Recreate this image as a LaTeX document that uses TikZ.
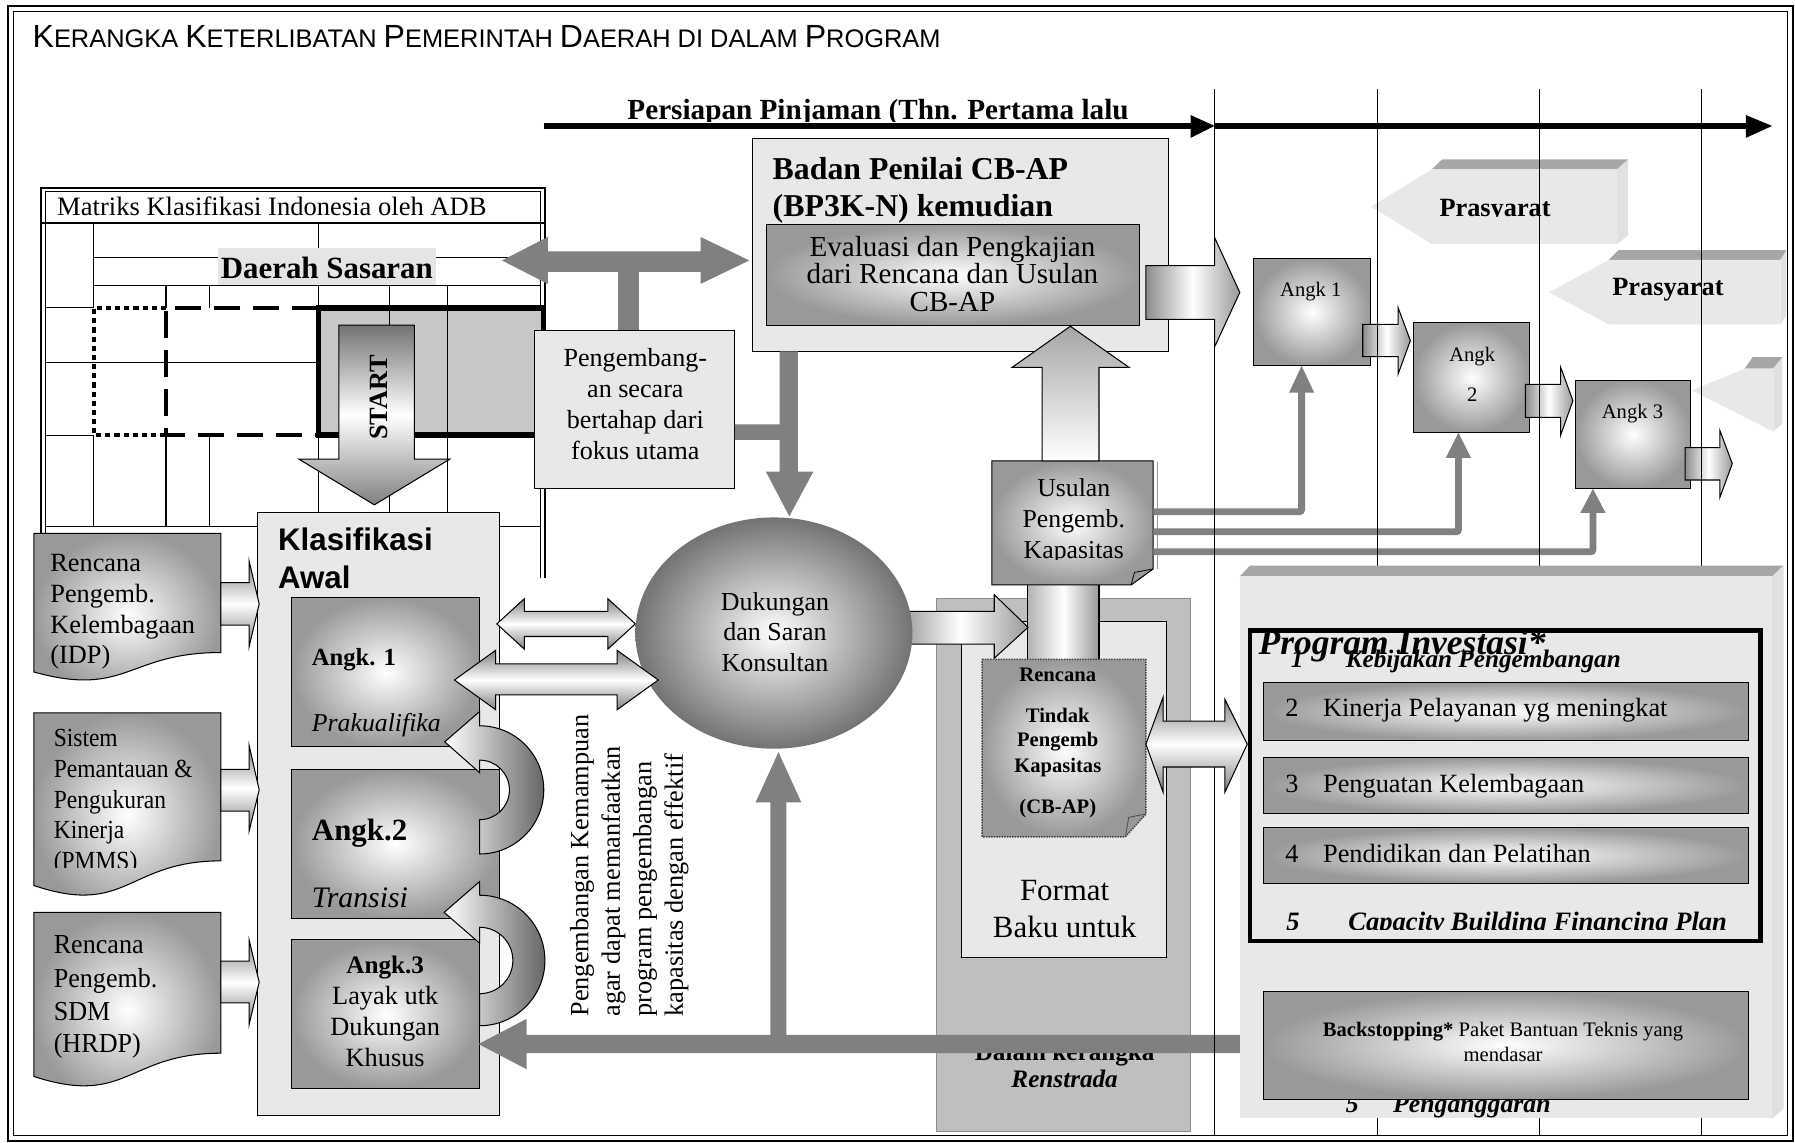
\documentclass[tikz,border=0pt]{standalone}
\usepackage{fontspec}
\setmainfont{Liberation Serif}
\setsansfont{Liberation Sans}
\newfontfamily\condf[FakeStretch=0.9]{Liberation Serif}
\newfontfamily\condg[FakeStretch=0.95]{Liberation Serif}
\usetikzlibrary{shapes.geometric}
\newcommand{\fsz}[2]{\fontsize{#1}{#2}\selectfont}
\newcommand{\bigc}[1]{{\fontsize{28}{28}\selectfont #1}}
\begin{document}
\begin{tikzpicture}[x=1pt,y=-1pt,
  every node/.style={inner sep=0pt,outer sep=0pt},
  bx/.style={draw=black,line width=0.9pt},
  marble/.style={fill=black!9},
  cg/.style={shading=radial,inner color=white,outer color=black!40},
  hg/.style={top color=black!50,bottom color=black!50,middle color=white,draw=black,line width=0.9pt},
  lg/.style={left color=black!45,right color=black!40,middle color=white,draw=black,line width=0.9pt},
  garr/.style={fill=black!50},
  gline/.style={draw=black!50,line width=6pt},
  grid/.style={line width=0.9pt},
  tl/.style={line width=1pt},
  bevtop/.style={fill=black!35},
  bevside/.style={fill=black!12},
]
\useasboundingbox (0,0) rectangle (1568,998);
\fill[white] (0,0) rectangle (1568,998);
% border
\draw[line width=2pt] (7,5.5) rectangle (1566,996.5);
\draw[line width=0.9pt] (11.5,10) rectangle (1561.5,991.5);
% title
\node[anchor=base west, font=\sffamily\fsz{22.2}{28}] (title) at (28.5,41.3)
 {\bigc{K}ERANGKA \bigc{K}ETERLIBATAN \bigc{P}EMERINTAH \bigc{D}AERAH DI DALAM \bigc{P}ROGRAM};
% timeline
\begin{scope}
\clip (400,70) rectangle (1100,106.3);
\node[anchor=base, font=\bfseries\fsz{25.5}{25.5}] (persiapan) at (767,104.5) {Persiapan Pinjaman (Thn. Pertama lalu};
\end{scope}
\coordinate (t0) at (475,110); \coordinate (t1) at (1061,110); \coordinate (t2) at (1548,110);
\draw[line width=5.8pt] (t0) -- (1042,110);
\fill (1040,100.5) -- (t1) -- (1040,120.5) -- cycle;
\draw[line width=5.8pt] (t1) -- (1527,110);
\fill (1525,100.5) -- (t2) -- (1525,120.5) -- cycle;

% ===== matrix =====
\draw[line width=1.5pt] (36,505) -- (36,164) -- (476,164) -- (476,505);
\draw[line width=1pt] (39.5,505) -- (39.5,167.5) -- (472.5,167.5) -- (472.5,505);
\draw[line width=2pt] (36,195) -- (476,195);
\node[anchor=base west, font=\fsz{23.2}{23.2}] (mtitle) at (50,188.4) {Matriks Klasifikasi Indonesia oleh ADB};
\fill[black!22] (278,269) rectangle (474.5,380);
\draw[grid] (82,195) -- (82,269) (82,380) -- (82,460);
\draw[grid] (278,195) -- (278,269) (278,380) -- (278,460);
\draw[grid] (82,225) -- (472.5,225);
\draw[grid] (82,249.6) -- (472.5,249.6);
\draw[grid] (145,249.6) -- (145,269) (145,380) -- (145,460);
\draw[grid] (183,249.6) -- (183,269) (183,380) -- (183,460);
\draw[grid] (340,249.6) -- (340,460);
\draw[grid] (391,249.6) -- (391,460);
\draw[grid] (39.5,269) -- (82,269) (39.5,380) -- (82,380);
\draw[grid] (39.5,316.5) -- (278,316.5);
\draw[grid] (39.5,459.5) -- (472.5,459.5);
\draw[line width=4pt, dash pattern=on 4.5pt off 3.5pt] (145,269) -- (82,269) -- (82,380) -- (145,380);
\draw[line width=4pt, dash pattern=on 23pt off 11pt] (278,269) -- (145,269) -- (145,380) -- (278,380);
\draw[line width=4.5pt] (278,269) rectangle (474.5,380);
\node[fill=black!10, minimum width=191, minimum height=32, anchor=north west] (dslbl) at (190,217) {};
\node[anchor=base, font=\bfseries\fsz{27}{27}] (ds) at (285.5,243) {Daerah Sasaran};

% top double arrow with stem
\fill[garr] (438.5,227.5) -- (478.5,207) -- (478.5,219.5) -- (612,219.5) -- (612,207) -- (654.5,227.5)
  -- (612,248) -- (612,237.5) -- (558,237.5) -- (558,290) -- (540,290) -- (540,237.5)
  -- (478.5,237.5) -- (478.5,248) -- cycle;

% Pengembangan box
\node[bx, marble, minimum width=175, minimum height=138, anchor=north west] (peng) at (467,289) {};
\node[anchor=base, font=\fsz{22.8}{22.8}] (pg1) at (555,320) {Pengembang-};
\node[anchor=base, font=\fsz{22.8}{22.8}] (pg2) at (555,347) {an secara};
\node[anchor=base, font=\fsz{22.8}{22.8}] (pg3) at (555,374) {bertahap dari};
\node[anchor=base, font=\fsz{22.8}{22.8}] (pg4) at (555,401) {fokus utama};

% Badan box
\node[bx, marble, minimum width=364, minimum height=186, anchor=north west] (badan) at (657,121) {};
\node[anchor=base west, font=\bfseries\fsz{27.8}{27.8}] (bd1) at (675,157) {Badan Penilai CB-AP};
\node[anchor=base west, font=\bfseries\fsz{27.8}{27.8}] (bd2) at (675,189) {(BP3K-N) kemudian};
\node[bx, cg, minimum width=325.5, minimum height=87.5, anchor=north west] (eval) at (669.5,196.5) {};
\node[anchor=base, font=\fsz{25.4}{25.4}] (ev1) at (832,224) {Evaluasi dan Pengkajian};
\node[anchor=base, font=\fsz{25.4}{25.4}] (ev2) at (832,248) {dari Rencana dan Usulan};
\node[anchor=base, font=\fsz{25.4}{25.4}] (ev3) at (832,272) {CB-AP};

% down arrow badan -> ellipse, with branch from peng
\fill[garr] (681,307) -- (697,307) -- (697,412) -- (710.5,412) -- (689.5,451) -- (669,412) -- (681,412)
  -- (681,384.3) -- (642,384.3) -- (642,370.7) -- (681,370.7) -- cycle;

% START arrow
\path[draw=black, line width=0.9pt, top color=black!55, bottom color=black!50, middle color=white]
  (296,284) -- (362,284) -- (362,401) -- (393,401) -- (327,441) -- (261,401) -- (296,401) -- cycle;
\node[rotate=90, font=\bfseries\fsz{23}{23}] (start) at (331,347) {START};

% Klasifikasi box
\node[bx, marble, minimum width=211, minimum height=527, anchor=north west] (klas) at (225,447.5) {};
\node[anchor=base west, font=\sffamily\bfseries\fsz{27.3}{27.3}] (kl1) at (243,481) {Klasifikasi};
\node[anchor=base west, font=\sffamily\bfseries\fsz{27.3}{27.3}] (kl2) at (243,514) {Awal};
\node[bx, cg, minimum width=164, minimum height=130.5, anchor=north west] (ak1) at (255,522) {};
\node[anchor=base west, font=\bfseries\fsz{21.5}{21.5}] (ak1a) at (272.5,581) {Angk. 1};
\node[anchor=base west, font=\itshape\fsz{22.5}{22.5}] (ak1b) at (272.5,639.3) {Prakualifika};
\node[bx, cg, minimum width=181, minimum height=129.5, anchor=north west] (ak2) at (255,672.5) {};
\node[anchor=base west, font=\bfseries\fsz{27}{27}] (ak2a) at (272.5,734.5) {Angk.2};
\node[anchor=base west, font=\itshape\fsz{26}{26}] (ak2b) at (272.5,792.6) {Transisi};
\node[bx, cg, minimum width=164, minimum height=130, anchor=north west] (ak3) at (255,821) {};
\node[anchor=base, font=\bfseries\fsz{22}{22}] (ak3a) at (336.5,850.4) {Angk.3};
\node[anchor=base, font=\fsz{23}{23}] (ak3b) at (336.5,877.8) {Layak utk};
\node[anchor=base, font=\fsz{23}{23}] (ak3c) at (336.5,904.6) {Dukungan};
\node[anchor=base, font=\fsz{23}{23}] (ak3d) at (336.5,931.7) {Khusus};
% U arrows
\path[draw=black, line width=0.9pt, left color=white, right color=black!60]
  (419,746) arc[start angle=90, end angle=-90, radius=56] -- (419,621.5) -- (388.5,648) -- (419,675)
  -- (419,664) arc[start angle=-90, end angle=90, radius=26] -- cycle;
\path[draw=black, line width=0.9pt, left color=white, right color=black!60]
  (419,896) arc[start angle=90, end angle=-90, radius=57] -- (419,770) -- (388,797) -- (419,824)
  -- (419,810) arc[start angle=-90, end angle=90, radius=29] -- cycle;

% left documents
\path[draw=black, line width=0.9pt, cg] (29.5,466) -- (193,466) -- (193,570) .. controls (111,570) and (111,609.6) .. (29.5,587) -- cycle;
\node[anchor=base west, font=\fsz{23}{23}] (d1a) at (44,499) {Rencana};
\node[anchor=base west, font=\fsz{23}{23}] (d1b) at (44,526) {Pengemb.};
\node[anchor=base west, font=\fsz{23}{23}] (d1c) at (44,553) {Kelembagaan};
\node[anchor=base west, font=\fsz{23}{23}] (d1d) at (44,579.5) {(IDP)};
\path[draw=black, line width=0.9pt, cg] (29.5,622.8) -- (193,622.8) -- (193,752) .. controls (111,752) and (111,801) .. (29.5,773.5) -- cycle;
\node[anchor=base west, font=\condf\fsz{22.8}{22.8}] (d2a) at (47,652.5) {Sistem};
\node[anchor=base west, font=\condf\fsz{22.8}{22.8}] (d2b) at (47,679.3) {Pemantauan \&};
\node[anchor=base west, font=\condf\fsz{22.8}{22.8}] (d2c) at (47,706) {Pengukuran};
\node[anchor=base west, font=\condf\fsz{22.8}{22.8}] (d2d) at (47,732.8) {Kinerja};
\begin{scope}
\clip (40,738) rectangle (190,757.5);
\node[anchor=base west, font=\condf\fsz{22.8}{22.8}] (d2e) at (47,759.5) {(PMMS)};
\end{scope}
\path[draw=black, line width=0.9pt, cg] (29.5,797) -- (193,797) -- (193,920) .. controls (111,920) and (111,967) .. (29.5,940.3) -- cycle;
\node[anchor=base west, font=\condg\fsz{24}{24}] (d3a) at (47,832.5) {Rencana};
\node[anchor=base west, font=\condg\fsz{24}{24}] (d3b) at (47,862.8) {Pengemb.};
\node[anchor=base west, font=\condg\fsz{24}{24}] (d3c) at (47,891.3) {SDM};
\node[anchor=base west, font=\condg\fsz{24}{24}] (d3d) at (47,919.8) {(HRDP)};
% doc arrows
\path[hg] (193,509) -- (217.6,509) -- (217.6,490) -- (226.4,527.5) -- (217.6,565) -- (217.6,546) -- (193,546) -- cycle;
\path[hg] (193,672) -- (217.6,672) -- (217.6,651) -- (226.4,690) -- (217.6,726) -- (217.6,708.6) -- (193,708.6) -- cycle;
\path[hg] (193,839.5) -- (217.6,839.5) -- (217.6,821) -- (226.4,858) -- (217.6,895) -- (217.6,876) -- (193,876) -- cycle;

% Renstrada panel
\node[draw=black!45, fill=black!25, minimum width=222, minimum height=465, anchor=north west] (renpanel) at (818,523) {};
\node[bx, marble, minimum width=179, minimum height=293, anchor=north west] (fmt) at (840,543) {};
\node[anchor=base, font=\fsz{27}{27}] (fm1) at (930,787) {Format};
\node[anchor=base, font=\fsz{27}{27}] (fm2) at (930,819) {Baku untuk};
\node[anchor=base, font=\bfseries\fsz{22}{22}] (dk) at (930,926) {Dalam kerangka};
\node[anchor=base, font=\bfseries\itshape\fsz{22}{22}] (rs) at (930,950) {Renstrada};

% connector usulan -> rencana
\path[draw=black, line width=0.9pt, left color=black!30, right color=black!40, middle color=white] (897.6,507) rectangle (960,578);
% Usulan box
\node[minimum width=141, minimum height=108.5, anchor=north west] (usulan) at (866.4,402.5) {};
\draw[black!40, line width=0.9pt] (1011,404) -- (1011,497);
\path[draw=black, line width=0.9pt, cg] (866.4,402.5) -- (1007.3,402.5) -- (1007.3,497) -- (988,511) -- (866.4,511) -- cycle;
\draw[black, line width=0.7pt] (988,511) -- (991,500) -- (1007.3,497);
\node[anchor=base, font=\fsz{22.5}{22.5}] (us1) at (938,434) {Usulan};
\node[anchor=base, font=\fsz{22.5}{22.5}] (us2) at (938,461) {Pengemb.};
\begin{scope}
\clip (868,470) rectangle (1005,489);
\node[anchor=base, font=\fsz{22.5}{22.5}] (us3) at (938,488) {Kapasitas};
\end{scope}
% up arrow usulan -> eval
\path[draw=black, line width=0.9pt, top color=black!35, bottom color=white]
  (910.3,402.5) -- (910.3,321) -- (884,321) -- (935,285) -- (986.4,321) -- (960,321) -- (960,402.5) -- cycle;

% ellipse -> rencana arrow
\path[lg] (780,534) -- (868.5,534) -- (868.5,519.5) -- (898,548) -- (868.5,575) -- (868.5,562.7) -- (780,562.7) -- cycle;
% ellipse
\node[ellipse, minimum width=242, minimum height=202, shading=radial, inner color=white, outer color=black!55] (duk) at (676,553) {};
\node[anchor=base, font=\fsz{22.7}{22.7}] (du1) at (677,533.5) {Dukungan};
\node[anchor=base, font=\fsz{22.7}{22.7}] (du2) at (677,559.5) {dan Saran};
\node[anchor=base, font=\fsz{22.7}{22.7}] (du3) at (677,586.5) {Konsultan};
% double arrows klasifikasi <-> ellipse
\path[hg] (434,545) -- (458,523) -- (458,534) -- (531,534) -- (531,523) -- (555,545) -- (531,567) -- (531,556) -- (458,556) -- (458,567) -- cycle;
\path[hg] (397,594) -- (433,568) -- (433,580) -- (539,580) -- (539,568) -- (575,594) -- (539,620) -- (539,607) -- (433,607) -- (433,620) -- cycle;

% Rencana doc
\node[minimum width=143, minimum height=155, anchor=north west] (renc) at (858,576) {};
\path[draw=black!75, line width=1.3pt, densely dotted, cg] (858,576) -- (1001,576) -- (1001,711) -- (983,731) -- (858,731) -- cycle;
\draw[black!70, line width=0.7pt] (983,731) -- (986,714) -- (1001,711);
\node[anchor=base, font=\bfseries\fsz{18}{18}] (rc1) at (924,595) {Rencana};
\node[anchor=base, font=\bfseries\fsz{18}{18}] (rc2) at (924,631) {Tindak};
\node[anchor=base, font=\bfseries\fsz{18}{18}] (rc3) at (924,652.5) {Pengemb};
\node[anchor=base, font=\bfseries\fsz{18}{18}] (rc4) at (924,675) {Kapasitas};
\node[anchor=base, font=\bfseries\fsz{18}{18}] (rc5) at (924,710.5) {(CB-AP)};

% bottom feedback arrow and up arrow to ellipse
\fill[garr] (1104,904) -- (460,904) -- (460,890) -- (418,912) -- (460,934) -- (460,920) -- (1104,920) -- cycle;
\fill[garr] (673,904) -- (673,701) -- (660,701) -- (680,657) -- (700,701) -- (687,701) -- (687,904) -- cycle;

% vertical text
\node[rotate=90, anchor=base west, font=\fsz{23}{23}] (vt1) at (514,888) {Pengembangan Kemampuan};
\node[rotate=90, anchor=base west, font=\fsz{23}{23}] (vt2) at (541.5,888) {agar dapat memanfaatkan};
\node[rotate=90, anchor=base west, font=\fsz{23}{23}] (vt3) at (569,888) {program pengembangan};
\node[rotate=90, anchor=base west, font=\fsz{23}{23}] (vt4) at (596.5,888) {kapasitas dengan effektif};

% Prasyarat shapes
\fill[bevtop] (1250.8,147.9) -- (1259.8,139.2) -- (1422.3,139.2) -- (1412.5,147.9) -- cycle;
\fill[bevside] (1412.5,147.9) -- (1422.3,139.2) -- (1422.3,205.3) -- (1412.5,213.1) -- cycle;
\fill[black!9] (1197.6,180.5) -- (1250.8,147.9) -- (1412.5,147.9) -- (1412.5,213.1) -- (1250.8,213.1) -- cycle;
\begin{scope}
\clip (1200,150) rectangle (1410,189.5);
\node[anchor=base, font=\bfseries\fsz{23}{23}] (pr1) at (1306,189) {Prasyarat};
\end{scope}
\fill[bevtop] (1405.3,227.1) -- (1414,218.4) -- (1560.5,218.4) -- (1555.4,227.1) -- cycle;
\fill[bevside] (1555.4,227.1) -- (1560.5,218.4) -- (1560.5,275) -- (1555.4,283.3) -- cycle;
\fill[black!9] (1353.3,255.4) -- (1405.3,227.1) -- (1555.4,227.1) -- (1555.4,283.3) -- (1405.3,283.3) -- cycle;
\node[anchor=base, font=\bfseries\fsz{23}{23}] (pr2) at (1457,257.7) {Prasyarat};
\fill[bevtop] (1524,322) -- (1531,312) -- (1557,312) -- (1549,322) -- cycle;
\fill[bevside] (1549,322) -- (1557,312) -- (1557,370) -- (1549,377) -- cycle;
\fill[black!9] (1478,341) -- (1524,322) -- (1549,322) -- (1549,377) -- cycle;

% Angk boxes
\node[bx, cg, minimum width=102, minimum height=94, anchor=north west] (a1) at (1095,225.6) {};
\node[anchor=base, font=\fsz{18}{18}] (a1t) at (1145,259.2) {Angk 1};
\node[bx, cg, minimum width=101, minimum height=96, anchor=north west] (a2) at (1235,282) {};
\node[anchor=base, font=\fsz{18}{18}] (a2t) at (1286,316) {Angk};
\node[anchor=base, font=\fsz{18}{18}] (a2n) at (1286,351) {2};
\node[bx, cg, minimum width=101, minimum height=95, anchor=north west] (a3) at (1376,332) {};
\node[anchor=base, font=\fsz{18}{18}] (a3t) at (1426,365.4) {Angk 3};
\path[lg] (1190.4,283.3) -- (1221.3,283.3) -- (1221.3,268.8) -- (1232,297.5) -- (1221.3,326.7) -- (1221.3,311.6) -- (1190.4,311.6) -- cycle;
\path[lg] (1332.4,335.7) -- (1363.3,335.7) -- (1363.3,320.9) -- (1374,350) -- (1363.3,380) -- (1363.3,364.5) -- (1332.4,364.5) -- cycle;
\path[lg] (1472,391) -- (1502.4,391) -- (1502.4,376.2) -- (1513.2,405) -- (1502.4,434.4) -- (1502.4,419.3) -- (1472,419.3) -- cycle;

% gray connectors usulan -> angk
\draw[gline, rounded corners=2pt] (usulan.east |- 0,447) -- (1137,447) -- (1137,341);
\fill[black!50] (1126,343) -- (a1.south -| 1137,0) -- (1148,343) -- cycle;
\draw[gline, rounded corners=2pt] (usulan.east |- 0,464.5) -- (1274,464.5) -- (1274,398);
\fill[black!50] (1263,400) -- (a2.south -| 1274,0) -- (1285,400) -- cycle;
\draw[gline, rounded corners=2pt] (usulan.east |- 0,482) -- (1391.5,482) -- (1391.5,446);
\fill[black!50] (1380.5,448) -- (a3.south -| 1391.5,0) -- (1402.5,448) -- cycle;

% timeline vertical lines
\draw[tl] (1061,78) -- (1061,991.5);
\draw[tl] (1203,78) -- (1203,991.5);
\draw[tl] (1345,78) -- (1345,991.5);
\draw[tl] (1486,78) -- (1486,991.5);

% badan -> right arrow
\path[lg] (1001,232) -- (1061,232) -- (1061,207.5) -- (1083,255.5) -- (1061,303) -- (1061,279) -- (1001,279) -- cycle;

% Program Investasi panel
\fill[bevtop] (1083,503.5) -- (1092,494) -- (1558,494) -- (1548,503.5) -- cycle;
\fill[bevside] (1548,503.5) -- (1558,494) -- (1558,968.5) -- (1548,977) -- cycle;
\node[marble, minimum width=465, minimum height=473.5, anchor=north west] (prog) at (1083,503.5) {};
\node[draw, line width=4pt, minimum width=446, minimum height=271, anchor=north west] (pframe) at (1092,551) {};
\node[anchor=base west, font=\bfseries\itshape\fsz{31}{31}] (ptitle) at (1099.5,571.4) {Program Investasi*};
\node[anchor=base west, font=\bfseries\itshape\fsz{22}{22}] (p1n) at (1127.6,583) {1};
\node[anchor=base west, font=\bfseries\itshape\fsz{22}{22}] (p1t) at (1175.6,583) {Kebijakan Pengembangan};
\node[bx, cg, minimum width=423, minimum height=50.4, anchor=north west] (i2) at (1104,596.2) {};
\node[anchor=base west, font=\fsz{23}{23}] (i2n) at (1122.7,626) {2};
\node[anchor=base west, font=\fsz{23}{23}] (i2t) at (1155.8,626) {Kinerja Pelayanan yg meningkat};
\node[bx, cg, minimum width=423, minimum height=48.6, anchor=north west] (i3) at (1104,661.8) {};
\node[anchor=base west, font=\fsz{23}{23}] (i3n) at (1122.7,692.2) {3};
\node[anchor=base west, font=\fsz{23}{23}] (i3t) at (1155.8,692.2) {Penguatan Kelembagaan};
\node[bx, cg, minimum width=423, minimum height=48.6, anchor=north west] (i4) at (1104,723) {};
\node[anchor=base west, font=\fsz{23}{23}] (i4n) at (1122.7,753.4) {4};
\node[anchor=base west, font=\fsz{23}{23}] (i4t) at (1155.8,753.4) {Pendidikan dan Pelatihan};
\begin{scope}
\clip (1095,780) rectangle (1535,812);
\node[anchor=base west, font=\bfseries\itshape\fsz{23.2}{23.2}] (i5n) at (1123.6,813) {5};
\node[anchor=base west, font=\bfseries\itshape\fsz{23.2}{23.2}] (i5t) at (1177.9,813) {Capacity Building Financing Plan};
\end{scope}
\node[anchor=base west, font=\bfseries\itshape\fsz{22.5}{22.5}] (pgn) at (1175.6,971.8) {5};
\node[anchor=base west, font=\bfseries\itshape\fsz{22.5}{22.5}] (pgt) at (1217,971.8) {Penganggaran};
\node[bx, cg, minimum width=423, minimum height=94.3, anchor=north west] (backs) at (1104,866) {};
\node[anchor=base, font=\fsz{18}{18}] (bk1) at (1313,905.6) {\textbf{Backstopping*} Paket Bantuan Teknis yang};
\node[anchor=base, font=\fsz{18}{18}] (bk2) at (1313,927.2) {mendasar};

% rencana <-> program arrow
\path[hg] (1001,650) -- (1016,609) -- (1016,630) -- (1070,630) -- (1070,611) -- (1089.5,650) -- (1070,692) -- (1070,670) -- (1016,670) -- (1016,692) -- cycle;
\end{tikzpicture}
\end{document}
